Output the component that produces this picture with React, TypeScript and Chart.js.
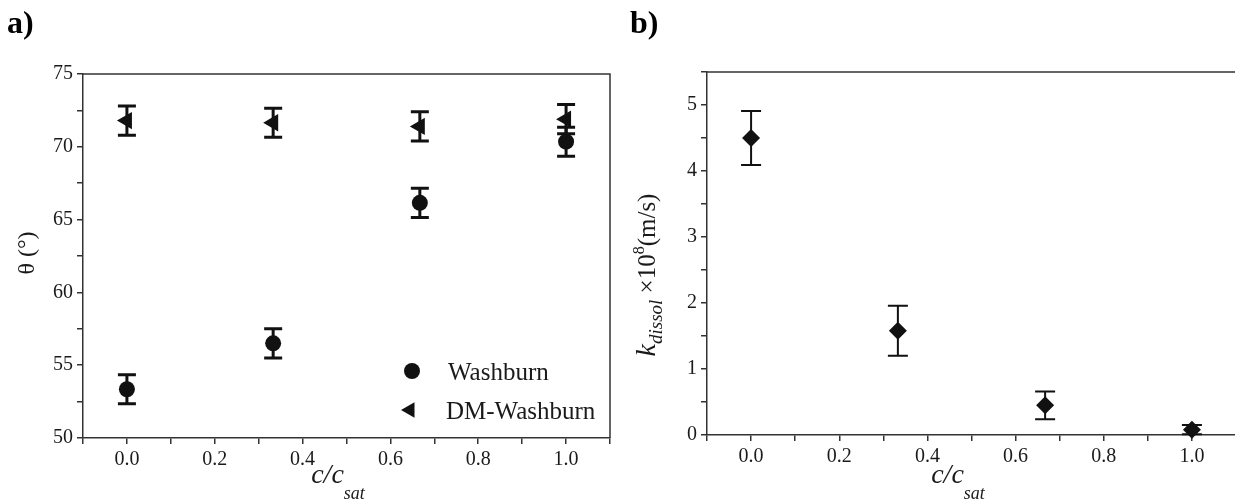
import React, { useEffect, useRef } from 'react';
import { Chart, registerables } from 'chart.js';

Chart.register(...registerables);

// ---- Data ----
const cRatio = [0, 0.333, 0.667, 1.0];
const washburn = [53.35, 56.5, 66.15, 70.35];
const washburnErr = [1.0, 1.0, 1.0, 1.0];
const dmWashburn = [71.8, 71.65, 71.4, 71.9];
const dmWashburnErr = [1.0, 1.0, 1.0, 1.0];
const kDissol = [4.5, 1.58, 0.45, 0.08];
const kDissolErr = [0.41, 0.38, 0.21, 0.07];

// ---- Tick values / labels ----
const xTicks = [-0.1, 0, 0.1, 0.2, 0.3, 0.4, 0.5, 0.6, 0.7, 0.8, 0.9, 1.0, 1.1];
const xLabeled = [0, 0.2, 0.4, 0.6, 0.8, 1.0];
const thetaTicks = [50, 52.5, 55, 57.5, 60, 62.5, 65, 67.5, 70, 72.5, 75];
const thetaLabeled = [50, 55, 60, 65, 70, 75];
const kTicks = [0, 0.5, 1, 1.5, 2, 2.5, 3, 3.5, 4, 4.5, 5, 5.5];
const kLabeled = [0, 1, 2, 3, 4, 5];

const seriesNames = ['Washburn', 'DM-Washburn'];

const SERIF = '"Liberation Serif", "Times New Roman", serif';
const INK = '#111111';
const AXIS = '#333333';

type Part = { t: string; font: string; dy?: number };

function drawRich(ctx: CanvasRenderingContext2D, parts: Part[], cx: number, cy: number, rotate: boolean) {
  ctx.save();
  ctx.translate(cx, cy);
  if (rotate) ctx.rotate(-Math.PI / 2);
  ctx.textBaseline = 'alphabetic';
  ctx.textAlign = 'left';
  ctx.fillStyle = '#1a1a1a';
  let total = 0;
  const widths = parts.map((p) => {
    ctx.font = p.font;
    const w = ctx.measureText(p.t).width;
    total += w;
    return w;
  });
  let x = -total / 2;
  parts.forEach((p, i) => {
    ctx.font = p.font;
    ctx.fillText(p.t, x, p.dy || 0);
    x += widths[i];
  });
  ctx.restore();
}

const errorBarPlugin = {
  id: 'errorBars',
  beforeDatasetsDraw(chart: any) {
    const { ctx } = chart;
    const xs = chart.scales.x;
    const ys = chart.scales.y;
    chart.data.datasets.forEach((ds: any) => {
      if (!ds.errors) return;
      ctx.save();
      ctx.strokeStyle = INK;
      ctx.lineWidth = ds.errorWidth || 2;
      const cap = ds.capHalf || 8;
      ds.data.forEach((p: any, j: number) => {
        const px = xs.getPixelForValue(p.x);
        const top = ys.getPixelForValue(p.y + ds.errors[j]);
        const bot = ys.getPixelForValue(p.y - ds.errors[j]);
        ctx.beginPath();
        ctx.moveTo(px, top);
        ctx.lineTo(px, bot);
        ctx.moveTo(px - cap, top);
        ctx.lineTo(px + cap, top);
        ctx.moveTo(px - cap, bot);
        ctx.lineTo(px + cap, bot);
        ctx.stroke();
      });
      ctx.restore();
    });
  },
};

const framePlugin = {
  id: 'frame',
  afterDraw(chart: any) {
    const { ctx, chartArea: a } = chart;
    ctx.save();
    ctx.strokeStyle = AXIS;
    ctx.lineWidth = 1.5;
    ctx.beginPath();
    ctx.moveTo(a.left, a.top);
    ctx.lineTo(a.right, a.top);
    ctx.lineTo(a.right, a.bottom);
    ctx.stroke();
    ctx.restore();
  },
};

function makeXScale(bottomHeight: number) {
  return {
    type: 'linear',
    min: -0.1,
    max: 1.1,
    afterBuildTicks: (s: any) => {
      s.ticks = xTicks.map((v) => ({ value: v }));
    },
    afterFit: (s: any) => {
      s.height = bottomHeight;
    },
    ticks: {
      autoSkip: false,
      maxRotation: 0,
      minRotation: 0,
      padding: 4,
      color: '#1a1a1a',
      font: { family: SERIF, size: 20 },
      callback: (v: any) => (xLabeled.some((l) => Math.abs(l - v) < 1e-6) ? Number(v).toFixed(1) : ''),
    },
    grid: { display: true, drawOnChartArea: false, drawTicks: true, tickLength: 6, color: AXIS, lineWidth: 1.5 },
    border: { display: true, color: AXIS, width: 1.5 },
  };
}

function makeYScale(min: number, max: number, ticks: number[], labeled: number[], leftWidth: number) {
  return {
    type: 'linear',
    min,
    max,
    afterBuildTicks: (s: any) => {
      s.ticks = ticks.map((v) => ({ value: v }));
    },
    afterFit: (s: any) => {
      s.width = leftWidth;
    },
    ticks: {
      autoSkip: false,
      padding: 4,
      color: '#1a1a1a',
      font: { family: SERIF, size: 20 },
      callback: (v: any) => (labeled.some((l) => Math.abs(l - v) < 1e-6) ? String(v) : ''),
    },
    grid: { display: true, drawOnChartArea: false, drawTicks: true, tickLength: 6, color: AXIS, lineWidth: 1.5 },
    border: { display: true, color: AXIS, width: 1.5 },
  };
}

const annotA = {
  id: 'annotA',
  afterDraw(chart: any) {
    const ctx: CanvasRenderingContext2D = chart.ctx;
    // panel label
    ctx.save();
    ctx.fillStyle = '#000';
    ctx.font = `bold 32px ${SERIF}`;
    ctx.textBaseline = 'alphabetic';
    ctx.fillText('a)', 7, 33);
    ctx.restore();
    // x title
    drawRich(ctx, [
      { t: 'c/c', font: `italic 28px ${SERIF}` },
      { t: 'sat', font: `italic 18px ${SERIF}`, dy: 16 },
    ], 338, 483, false);
    // y title
    drawRich(ctx, [{ t: 'θ (°)', font: `24px ${SERIF}` }], 34, 253, true);
    // legend
    ctx.save();
    ctx.fillStyle = INK;
    ctx.beginPath();
    ctx.arc(412, 371, 8, 0, Math.PI * 2);
    ctx.fill();
    const tx = 410, ty = 410, r = 9;
    ctx.beginPath();
    ctx.moveTo(tx - r, ty);
    ctx.lineTo(tx + 0.5 * r, ty - 0.866 * r);
    ctx.lineTo(tx + 0.5 * r, ty + 0.866 * r);
    ctx.closePath();
    ctx.fill();
    ctx.fillStyle = '#1a1a1a';
    ctx.font = `25px ${SERIF}`;
    ctx.textBaseline = 'alphabetic';
    ctx.fillText(seriesNames[0], 448, 380);
    ctx.fillText(seriesNames[1], 446, 419);
    ctx.restore();
  },
};

const annotB = {
  id: 'annotB',
  afterDraw(chart: any) {
    const ctx: CanvasRenderingContext2D = chart.ctx;
    ctx.save();
    ctx.fillStyle = '#000';
    ctx.font = `bold 32px ${SERIF}`;
    ctx.textBaseline = 'alphabetic';
    ctx.fillText('b)', 10, 33);
    ctx.restore();
    drawRich(ctx, [
      { t: 'c/c', font: `italic 28px ${SERIF}` },
      { t: 'sat', font: `italic 18px ${SERIF}`, dy: 16 },
    ], 338, 483, false);
    drawRich(ctx, [
      { t: 'k', font: `italic 28px ${SERIF}` },
      { t: 'dissol', font: `italic 19px ${SERIF}`, dy: 7 },
      { t: ' ×10', font: `25px ${SERIF}` },
      { t: '8', font: `16px ${SERIF}`, dy: -11 },
      { t: '(m/s)', font: `25px ${SERIF}` },
    ], 35, 275, true);
  },
};

export default function App() {
  const refA = useRef<HTMLCanvasElement | null>(null);
  const refB = useRef<HTMLCanvasElement | null>(null);

  useEffect(() => {
    const chartA = new Chart(refA.current as HTMLCanvasElement, {
      type: 'scatter',
      data: {
        datasets: [
          {
            label: seriesNames[0],
            data: cRatio.map((x, i) => ({ x, y: washburn[i] })),
            pointStyle: 'circle',
            pointRadius: 8,
            backgroundColor: INK,
            borderColor: INK,
            borderWidth: 0,
            showLine: false,
            errors: washburnErr,
            errorWidth: 3,
            capHalf: 9,
          } as any,
          {
            label: seriesNames[1],
            data: cRatio.map((x, i) => ({ x, y: dmWashburn[i] })),
            pointStyle: 'triangle',
            rotation: -90,
            pointRadius: 10,
            backgroundColor: INK,
            borderColor: INK,
            borderWidth: 0,
            showLine: false,
            errors: dmWashburnErr,
            errorWidth: 3,
            capHalf: 9,
          } as any,
        ],
      },
      options: {
        animation: false,
        responsive: false,
        devicePixelRatio: 1,
        clip: false,
        layout: { padding: { left: 0, top: 74, right: 9, bottom: 0 } },
        scales: {
          x: makeXScale(502 - 438) as any,
          y: makeYScale(50, 75, thetaTicks, thetaLabeled, 83) as any,
        },
        plugins: { legend: { display: false }, tooltip: { enabled: false } },
      } as any,
      plugins: [errorBarPlugin, framePlugin, annotA],
    });

    const chartB = new Chart(refB.current as HTMLCanvasElement, {
      type: 'scatter',
      data: {
        datasets: [
          {
            label: 'k_dissol',
            data: cRatio.map((x, i) => ({ x, y: kDissol[i] })),
            pointStyle: 'rectRot',
            pointRadius: 9,
            backgroundColor: INK,
            borderColor: INK,
            borderWidth: 0,
            showLine: false,
            errors: kDissolErr,
            errorWidth: 2,
            capHalf: 10,
          } as any,
        ],
      },
      options: {
        animation: false,
        responsive: false,
        devicePixelRatio: 1,
        clip: false,
        layout: { padding: { left: 0, top: 72, right: 6, bottom: 0 } },
        scales: {
          x: makeXScale(502 - 435) as any,
          y: makeYScale(0, 5.5, kTicks, kLabeled, 87) as any,
        },
        plugins: { legend: { display: false }, tooltip: { enabled: false } },
      } as any,
      plugins: [errorBarPlugin, framePlugin, annotB],
    });

    return () => {
      chartA.destroy();
      chartB.destroy();
    };
  }, []);

  return (
    <div style={{ position: 'fixed', left: 0, top: 0, width: 1235, height: 502, overflow: 'hidden', background: '#fff' }}>
      <div style={{ position: 'absolute', left: 0, top: 0, width: 620, height: 502 }}>
        <canvas ref={refA} width={620} height={502} style={{ width: 620, height: 502, display: 'block' }} />
      </div>
      <div style={{ position: 'absolute', left: 620, top: 0, width: 625, height: 502 }}>
        <canvas ref={refB} width={625} height={502} style={{ width: 625, height: 502, display: 'block' }} />
      </div>
    </div>
  );
}
